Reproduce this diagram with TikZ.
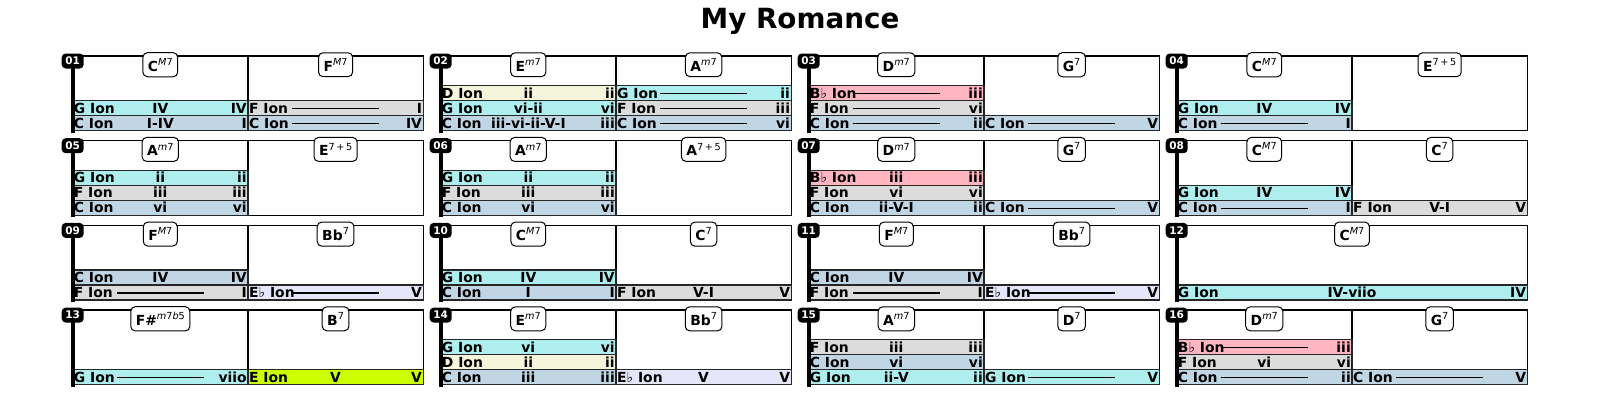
\documentclass[tikz,border=0pt]{standalone}
\usepackage{fontspec}
\setmainfont{DejaVu Sans}
\newfontfamily\flatfont{DejaVu Sans}
\usepackage{tikz}
\usepackage{xcolor}
\definecolor{ionC}{HTML}{C0D6E4}
\definecolor{ionG}{HTML}{AFEEEE}
\definecolor{ionF}{HTML}{DCDCDC}
\definecolor{ionD}{HTML}{F5F5DC}
\definecolor{ionBb}{HTML}{FFB6C1}
\definecolor{ionEb}{HTML}{E6E6FA}
\definecolor{ionE}{HTML}{CCFF00}
\def\flt{{\flatfont\mdseries ♭}}
\newcommand{\chsup}[1]{\raisebox{0.42em}{\mdseries\fontsize{9.7}{9.7}\selectfont #1}}
\newcommand{\barframe}{\draw[boxedge] (0,0) rectangle (350.5,74.5);}
\newcommand{\barsplit}{\draw[boxedge] (175.25,0) -- (175.25,74.5);}
\newcommand{\bartag}[2]{%
	\draw[barline] (0,-2) -- (0,76.5);
	\node[badge] (#1) at (0,5) {#2};}
\newcommand{\ionband}[8][175.25]{%
	\draw[bandedge, fill=#5] (#3,#4) rectangle ++(#1,15);
	\if\relax\detokenize{#7}\relax
		\draw[ionrule] ({#3+0.25*#1},{#4+8}) -- ({#3+0.75*#1},{#4+8});
	\else
		\node[bandtxt] (#2m) at ({#3+#1/2},{#4+7.5}) {#7};
	\fi
	\node[bandtxt, anchor=west] (#2l) at (#3,{#4+7.5}) {#6};
	\node[bandtxt, anchor=east] (#2r) at ({#3+#1},{#4+7.5}) {#8};}

\begin{document}
\begin{tikzpicture}[x=1pt, y=-1pt,
	boxedge/.style={line width=1.3pt, black},
	barline/.style={line width=4.2pt, black},
	bandedge/.style={line width=1.2pt, black!85},
	ionrule/.style={line width=1.3pt, black},
	bandtxt/.style={inner xsep=1pt, inner ysep=0pt, text height=10pt, text depth=0pt, font=\bfseries\fontsize{13.9}{14}\selectfont},
	badge/.style={fill=black, text=white, rounded corners=4pt, inner xsep=3pt, inner ysep=2pt, minimum width=22pt, minimum height=15pt, font=\bfseries\fontsize{10.5}{10.5}\selectfont},
	chordtag/.style={draw, fill=white, line width=1pt, rounded corners=4.5pt, inner xsep=5pt, inner ysep=5.5pt, font=\bfseries\fontsize{13.9}{14}\selectfont}]
	\useasboundingbox (0,0) rectangle (1600,400);
	\node[font=\bfseries\fontsize{27.8}{30}\selectfont] (title) at (800,21) {My Romance};

	\begin{scope}[shift={(72.7,56)}]
		\barframe \barsplit
		\ionband{m01ag}{0}{44.5}{ionG}{G Ion}{IV}{IV}
		\ionband{m01ac}{0}{59.5}{ionC}{C Ion}{I-IV}{I}
		\ionband{m01bf}{175.25}{44.5}{ionF}{F Ion}{}{I}
		\ionband{m01bc}{175.25}{59.5}{ionC}{C Ion}{}{IV}
		\bartag{n01}{01}
		\node[chordtag] (c01a) at (87.6,8.7) {C\chsup{\textit{M}7}};
		\node[chordtag] (c01b) at (262.9,8.7) {F\chsup{\textit{M}7}};
	\end{scope}
	\begin{scope}[shift={(440.7,56)}]
		\barframe \barsplit
		\ionband{m02ad}{0}{29.5}{ionD}{D Ion}{ii}{ii}
		\ionband{m02ag}{0}{44.5}{ionG}{G Ion}{vi-ii}{vi}
		\ionband{m02ac}{0}{59.5}{ionC}{C Ion}{iii-vi-ii-V-I}{iii}
		\ionband{m02bg}{175.25}{29.5}{ionG}{G Ion}{}{ii}
		\ionband{m02bf}{175.25}{44.5}{ionF}{F Ion}{}{iii}
		\ionband{m02bc}{175.25}{59.5}{ionC}{C Ion}{}{vi}
		\bartag{n02}{02}
		\node[chordtag] (c02a) at (87.6,8.7) {E\chsup{\textit{m}7}};
		\node[chordtag] (c02b) at (262.9,8.7) {A\chsup{\textit{m}7}};
	\end{scope}
	\begin{scope}[shift={(808.7,56)}]
		\barframe \barsplit
		\ionband{m03ab}{0}{29.5}{ionBb}{B\flt{} Ion}{}{iii}
		\ionband{m03af}{0}{44.5}{ionF}{F Ion}{}{vi}
		\ionband{m03ac}{0}{59.5}{ionC}{C Ion}{}{ii}
		\ionband{m03bc}{175.25}{59.5}{ionC}{C Ion}{}{V}
		\bartag{n03}{03}
		\node[chordtag] (c03a) at (87.6,8.7) {D\chsup{\textit{m}7}};
		\node[chordtag] (c03b) at (262.9,8.7) {G\chsup{7}};
	\end{scope}
	\begin{scope}[shift={(1176.7,56)}]
		\barframe \barsplit
		\ionband{m04ag}{0}{44.5}{ionG}{G Ion}{IV}{IV}
		\ionband{m04ac}{0}{59.5}{ionC}{C Ion}{}{I}
		\bartag{n04}{04}
		\node[chordtag] (c04a) at (87.6,8.7) {C\chsup{\textit{M}7}};
		\node[chordtag] (c04b) at (262.9,8.7) {E\chsup{7\,+\,5}};
	\end{scope}

	\begin{scope}[shift={(72.7,140.7)}]
		\barframe \barsplit
		\ionband{m05ag}{0}{29.5}{ionG}{G Ion}{ii}{ii}
		\ionband{m05af}{0}{44.5}{ionF}{F Ion}{iii}{iii}
		\ionband{m05ac}{0}{59.5}{ionC}{C Ion}{vi}{vi}
		\bartag{n05}{05}
		\node[chordtag] (c05a) at (87.6,8.7) {A\chsup{\textit{m}7}};
		\node[chordtag] (c05b) at (262.9,8.7) {E\chsup{7\,+\,5}};
	\end{scope}
	\begin{scope}[shift={(440.7,140.7)}]
		\barframe \barsplit
		\ionband{m06ag}{0}{29.5}{ionG}{G Ion}{ii}{ii}
		\ionband{m06af}{0}{44.5}{ionF}{F Ion}{iii}{iii}
		\ionband{m06ac}{0}{59.5}{ionC}{C Ion}{vi}{vi}
		\bartag{n06}{06}
		\node[chordtag] (c06a) at (87.6,8.7) {A\chsup{\textit{m}7}};
		\node[chordtag] (c06b) at (262.9,8.7) {A\chsup{7\,+\,5}};
	\end{scope}
	\begin{scope}[shift={(808.7,140.7)}]
		\barframe \barsplit
		\ionband{m07ab}{0}{29.5}{ionBb}{B\flt{} Ion}{iii}{iii}
		\ionband{m07af}{0}{44.5}{ionF}{F Ion}{vi}{vi}
		\ionband{m07ac}{0}{59.5}{ionC}{C Ion}{ii-V-I}{ii}
		\ionband{m07bc}{175.25}{59.5}{ionC}{C Ion}{}{V}
		\bartag{n07}{07}
		\node[chordtag] (c07a) at (87.6,8.7) {D\chsup{\textit{m}7}};
		\node[chordtag] (c07b) at (262.9,8.7) {G\chsup{7}};
	\end{scope}
	\begin{scope}[shift={(1176.7,140.7)}]
		\barframe \barsplit
		\ionband{m08ag}{0}{44.5}{ionG}{G Ion}{IV}{IV}
		\ionband{m08ac}{0}{59.5}{ionC}{C Ion}{}{I}
		\ionband{m08bf}{175.25}{59.5}{ionF}{F Ion}{V-I}{V}
		\bartag{n08}{08}
		\node[chordtag] (c08a) at (87.6,8.7) {C\chsup{\textit{M}7}};
		\node[chordtag] (c08b) at (262.9,8.7) {C\chsup{7}};
	\end{scope}

	\begin{scope}[shift={(72.7,225.4)}]
		\barframe \barsplit
		\ionband{m09ac}{0}{44.5}{ionC}{C Ion}{IV}{IV}
		\ionband{m09af}{0}{59.5}{ionF}{F Ion}{}{I}
		\ionband{m09be}{175.25}{59.5}{ionEb}{E\flt{} Ion}{}{V}
		\bartag{n09}{09}
		\node[chordtag] (c09a) at (87.6,8.7) {F\chsup{\textit{M}7}};
		\node[chordtag] (c09b) at (262.9,8.7) {Bb\chsup{7}};
	\end{scope}
	\begin{scope}[shift={(440.7,225.4)}]
		\barframe \barsplit
		\ionband{m10ag}{0}{44.5}{ionG}{G Ion}{IV}{IV}
		\ionband{m10ac}{0}{59.5}{ionC}{C Ion}{I}{I}
		\ionband{m10bf}{175.25}{59.5}{ionF}{F Ion}{V-I}{V}
		\bartag{n10}{10}
		\node[chordtag] (c10a) at (87.6,8.7) {C\chsup{\textit{M}7}};
		\node[chordtag] (c10b) at (262.9,8.7) {C\chsup{7}};
	\end{scope}
	\begin{scope}[shift={(808.7,225.4)}]
		\barframe \barsplit
		\ionband{m11ac}{0}{44.5}{ionC}{C Ion}{IV}{IV}
		\ionband{m11af}{0}{59.5}{ionF}{F Ion}{}{I}
		\ionband{m11be}{175.25}{59.5}{ionEb}{E\flt{} Ion}{}{V}
		\bartag{n11}{11}
		\node[chordtag] (c11a) at (87.6,8.7) {F\chsup{\textit{M}7}};
		\node[chordtag] (c11b) at (262.9,8.7) {Bb\chsup{7}};
	\end{scope}
	\begin{scope}[shift={(1176.7,225.4)}]
		\barframe
		\ionband[350.5]{m12ag}{0}{59.5}{ionG}{G Ion}{IV-viio}{IV}
		\bartag{n12}{12}
		\node[chordtag] (c12a) at (175.25,8.7) {C\chsup{\textit{M}7}};
	\end{scope}

	\begin{scope}[shift={(72.7,310.1)}]
		\barframe \barsplit
		\ionband{m13ag}{0}{59.5}{ionG}{G Ion}{}{viio}
		\ionband{m13be}{175.25}{59.5}{ionE}{E Ion}{V}{V}
		\bartag{n13}{13}
		\node[chordtag] (c13a) at (87.6,8.7) {F\#\chsup{\textit{m}7\textit{b}5}};
		\node[chordtag] (c13b) at (262.9,8.7) {B\chsup{7}};
	\end{scope}
	\begin{scope}[shift={(440.7,310.1)}]
		\barframe \barsplit
		\ionband{m14ag}{0}{29.5}{ionG}{G Ion}{vi}{vi}
		\ionband{m14ad}{0}{44.5}{ionD}{D Ion}{ii}{ii}
		\ionband{m14ac}{0}{59.5}{ionC}{C Ion}{iii}{iii}
		\ionband{m14be}{175.25}{59.5}{ionEb}{E\flt{} Ion}{V}{V}
		\bartag{n14}{14}
		\node[chordtag] (c14a) at (87.6,8.7) {E\chsup{\textit{m}7}};
		\node[chordtag] (c14b) at (262.9,8.7) {Bb\chsup{7}};
	\end{scope}
	\begin{scope}[shift={(808.7,310.1)}]
		\barframe \barsplit
		\ionband{m15af}{0}{29.5}{ionF}{F Ion}{iii}{iii}
		\ionband{m15ac}{0}{44.5}{ionC}{C Ion}{vi}{vi}
		\ionband{m15ag}{0}{59.5}{ionG}{G Ion}{ii-V}{ii}
		\ionband{m15bg}{175.25}{59.5}{ionG}{G Ion}{}{V}
		\bartag{n15}{15}
		\node[chordtag] (c15a) at (87.6,8.7) {A\chsup{\textit{m}7}};
		\node[chordtag] (c15b) at (262.9,8.7) {D\chsup{7}};
	\end{scope}
	\begin{scope}[shift={(1176.7,310.1)}]
		\barframe \barsplit
		\ionband{m16ab}{0}{29.5}{ionBb}{B\flt{} Ion}{}{iii}
		\ionband{m16af}{0}{44.5}{ionF}{F Ion}{vi}{vi}
		\ionband{m16ac}{0}{59.5}{ionC}{C Ion}{}{ii}
		\ionband{m16bc}{175.25}{59.5}{ionC}{C Ion}{}{V}
		\bartag{n16}{16}
		\node[chordtag] (c16a) at (87.6,8.7) {D\chsup{\textit{m}7}};
		\node[chordtag] (c16b) at (262.9,8.7) {G\chsup{7}};
	\end{scope}
\end{tikzpicture}
\end{document}
